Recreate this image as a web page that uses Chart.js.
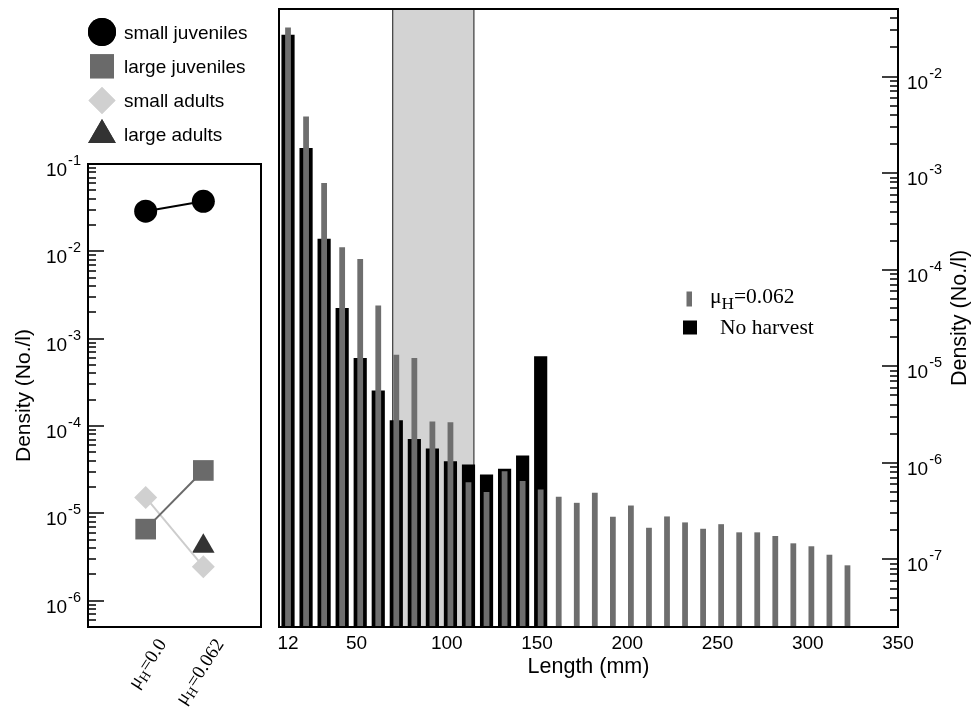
<!DOCTYPE html>
<html><head><meta charset="utf-8">
<script src="https://cdn.jsdelivr.net/npm/chart.js@4.4.0/dist/chart.umd.min.js"></script>
<style>
html,body{margin:0;padding:0;background:#fff;}
#wrap{position:relative;width:971px;height:714px;overflow:hidden;}
#c1{position:absolute;left:0;top:0;}
#c2{position:absolute;left:270px;top:0;}
</style></head><body>
<div id="wrap">
<canvas id="c1" width="270" height="714"></canvas>
<canvas id="c2" width="701" height="714"></canvas>
</div>
<script>
// ---------- data: left panel (stage densities) ----------
const harvestLevels = ['μ_H=0.0', 'μ_H=0.062'];
const stageNames = ['small juveniles', 'large juveniles', 'small adults', 'large adults'];
const smallJuveniles = [0.0288, 0.0374];
const largeJuveniles = [6.6e-6, 3.1e-5];
const smallAdults = [1.52e-5, 2.45e-6];
const largeAdults = [null, 4.2e-6];
const leftTickExponents = [-6, -5, -4, -3, -2, -1];

// ---------- data: right panel (length distribution) ----------
const lengthClasses = [12, 22, 32, 42, 52, 62, 72, 82, 92, 102, 112, 122, 132, 142, 152, 162,
  172, 182, 192, 202, 212, 222, 232, 242, 252, 262, 272, 282, 292, 302, 312, 322];
const densityHarvest = [0.0321, 3.86e-3, 7.9e-4, 1.71e-4, 1.29e-4, 4.25e-5, 1.32e-5, 1.22e-5,
  2.68e-6, 2.64e-6, 6.3e-7, 5.0e-7, 8.2e-7, 6.5e-7, 5.3e-7, 4.46e-7,
  3.86e-7, 4.9e-7, 2.77e-7, 3.62e-7, 2.13e-7, 2.79e-7, 2.42e-7, 2.08e-7,
  2.32e-7, 1.91e-7, 1.91e-7, 1.75e-7, 1.47e-7, 1.37e-7, 1.12e-7, 8.7e-8];
const densityNoHarvest = [0.027, 1.82e-3, 2.09e-4, 4.02e-5, 1.22e-5, 5.6e-6, 2.76e-6, 1.77e-6,
  1.41e-6, 1.04e-6, 9.6e-7, 7.6e-7, 8.7e-7, 1.19e-6, 1.27e-5];
const lengthTicks = [12, 50, 100, 150, 200, 250, 300, 350];
const rightTickExponents = [-7, -6, -5, -4, -3, -2];
const harvestWindow = [70, 115];
const seriesLabels = ['μ_H=0.062', 'No harvest'];

// ---------- helpers ----------
const SANS = "'Liberation Sans', Arial, sans-serif";
const SERIF = "'Liberation Serif', 'Times New Roman', serif";

function richParts(s) {
  const m = s.match(/^(.*?)_(.)(.*)$/);
  return m ? [[m[1], 0], [m[2], 1], [m[3], 0]] : [[s, 0]];
}
function drawRich(ctx, s, x, y, size, family, align, subScale) {
  const parts = richParts(s);
  const sub = size * (subScale || 0.72);
  let w = 0;
  parts.forEach(([t, b]) => { ctx.font = (b ? sub : size) + 'px ' + family; w += ctx.measureText(t).width; });
  let cx = align === 'right' ? x - w : x;
  ctx.textAlign = 'left';
  parts.forEach(([t, b]) => {
    ctx.font = (b ? sub : size) + 'px ' + family;
    ctx.fillText(t, cx, b ? y + size * 0.28 : y);
    cx += ctx.measureText(t).width;
  });
}
function drawPow(ctx, exp, x, y, align) {
  const base = '10', ex = String(exp);
  ctx.font = '19px ' + SANS;
  const wb = ctx.measureText(base).width;
  ctx.font = '14.5px ' + SANS;
  const we = ctx.measureText(ex).width;
  let sx = align === 'right' ? x - wb - we - 1 : x;
  ctx.textAlign = 'left';
  ctx.textBaseline = 'alphabetic';
  ctx.font = '19px ' + SANS;
  ctx.fillText(base, sx, y + 12);
  ctx.font = '14.5px ' + SANS;
  ctx.fillText(ex, sx + wb + 1, y + 1);
}
function drawLogTicks(ctx, scale, x, dir, majorLen, minorLen) {
  const lo = Math.floor(Math.log10(scale.min)), hi = Math.ceil(Math.log10(scale.max));
  ctx.beginPath();
  for (let e = lo; e <= hi; e++) {
    for (let k = 1; k <= 9; k++) {
      const v = k * Math.pow(10, e);
      if (v < scale.min * 0.999 || v > scale.max * 1.001) continue;
      const y = Math.round(scale.getPixelForValue(v));
      const len = k === 1 ? majorLen : minorLen;
      ctx.moveTo(x, y); ctx.lineTo(x + dir * len, y);
    }
  }
  ctx.stroke();
}

// ---------- left panel ----------
const stageSeries = [smallJuveniles, largeJuveniles, smallAdults, largeAdults];
const stageLine = ['#000000', '#6a6a6a', '#cdcdcd', '#333333'];
const stageFill = ['#000000', '#6a6a6a', '#d0d0d0', '#333333'];
const stageStyle = ['circle', 'rect', 'rectRot', 'triangle'];
const stageRadius = [11.5, 14.6, 11.5, 13];
const stageLegendRadius = [14, 17, 13.5, 16];

const leftDecor = {
  id: 'leftDecor',
  afterDraw(chart) {
    const ctx = chart.ctx, a = chart.chartArea, ys = chart.scales.y, xs = chart.scales.x;
    ctx.save();
    ctx.strokeStyle = '#000'; ctx.lineWidth = 2;
    ctx.strokeRect(a.left, a.top, a.right - a.left, a.bottom - a.top);
    ctx.lineWidth = 1.6;
    drawLogTicks(ctx, ys, a.left, 1, 16, 8);
    ctx.fillStyle = '#000';
    leftTickExponents.forEach(e => drawPow(ctx, e, a.left - 7, ys.getPixelForValue(Math.pow(10, e)), 'right'));
    // rotated category labels
    harvestLevels.forEach((lab, i) => {
      const px = xs.getPixelForValue(i + 1);
      ctx.save();
      ctx.translate(px + 17, a.bottom + 14);
      ctx.rotate(-57 * Math.PI / 180);
      ctx.textBaseline = 'middle';
      drawRich(ctx, lab, 0, 0, 19, SERIF, 'right');
      ctx.restore();
    });
    // legend
    chart.data.datasets.forEach((ds, i) => {
      const cy = 32 + i * 34.3;
      ctx.fillStyle = ds.backgroundColor;
      Chart.helpers.drawPoint(ctx, { pointStyle: ds.pointStyle, radius: stageLegendRadius[i], borderWidth: 0, rotation: 0 }, 102, cy);
      ctx.fill();
      ctx.fillStyle = '#000';
      ctx.font = '19px ' + SANS;
      ctx.textAlign = 'left'; ctx.textBaseline = 'alphabetic';
      ctx.fillText(ds.label, 124, cy + 6.5);
    });
    ctx.restore();
  }
};

new Chart(document.getElementById('c1'), {
  type: 'line',
  data: {
    datasets: stageNames.map((name, s) => ({
      label: name,
      data: stageSeries[s].map((v, i) => ({ x: i + 1, y: v })),
      borderColor: stageLine[s],
      backgroundColor: stageFill[s],
      pointBackgroundColor: stageFill[s],
      pointStyle: stageStyle[s],
      pointRadius: stageRadius[s],
      pointBorderWidth: 0,
      borderWidth: 2,
      tension: 0
    }))
  },
  options: {
    responsive: false, animation: false,
    layout: { autoPadding: false, padding: { left: 0, top: 164, right: 9, bottom: 0 } },
    plugins: { legend: { display: false }, tooltip: { enabled: false } },
    scales: {
      x: { type: 'linear', min: 0, max: 3, grid: { display: false }, border: { display: false },
           ticks: { display: false }, afterFit: s => { s.height = 87; } },
      y: { type: 'logarithmic', min: 5e-7, max: 0.1, grid: { display: false }, border: { display: false },
           ticks: { display: false },
           title: { display: true, text: 'Density (No./l)', color: '#000', font: { family: SANS, size: 21 }, padding: { top: 12, bottom: 0 } },
           afterFit: s => { s.width = 88; } }
    }
  },
  plugins: [leftDecor]
});

// ---------- right panel ----------
const rightDecor = {
  id: 'rightDecor',
  beforeDatasetsDraw(chart) {
    const ctx = chart.ctx, a = chart.chartArea, xs = chart.scales.x;
    const x0 = xs.getPixelForValue(harvestWindow[0]), x1 = xs.getPixelForValue(harvestWindow[1]);
    ctx.save();
    ctx.fillStyle = '#d3d3d3';
    ctx.fillRect(x0, a.top, x1 - x0, a.bottom - a.top);
    ctx.strokeStyle = '#3a3a3a'; ctx.lineWidth = 1.2;
    ctx.beginPath();
    ctx.moveTo(x0, a.top); ctx.lineTo(x0, a.bottom);
    ctx.moveTo(x1, a.top); ctx.lineTo(x1, a.bottom);
    ctx.stroke();
    ctx.restore();
  },
  afterDraw(chart) {
    const ctx = chart.ctx, a = chart.chartArea, ys = chart.scales.y;
    ctx.save();
    ctx.strokeStyle = '#000'; ctx.lineWidth = 2;
    ctx.strokeRect(a.left, a.top, a.right - a.left, a.bottom - a.top);
    ctx.lineWidth = 1.6;
    drawLogTicks(ctx, ys, a.right, -1, 16, 8);
    ctx.fillStyle = '#000';
    rightTickExponents.forEach(e => drawPow(ctx, e, a.right + 9, ys.getPixelForValue(Math.pow(10, e)), 'left'));
    // right axis title (reads bottom to top)
    ctx.save();
    ctx.translate(690, (a.top + a.bottom) / 2);
    ctx.rotate(-Math.PI / 2);
    ctx.font = '21.5px ' + SANS;
    ctx.textAlign = 'center'; ctx.textBaseline = 'middle';
    ctx.fillText('Density (No./l)', 0, 0);
    ctx.restore();
    // legend
    const ds = chart.data.datasets;
    ctx.fillStyle = ds[0].backgroundColor;
    ctx.fillRect(416.5, 291.5, 5.5, 15);
    ctx.fillStyle = ds[1].backgroundColor;
    ctx.fillRect(413, 320.5, 14, 14);
    ctx.fillStyle = '#000';
    ctx.textBaseline = 'alphabetic';
    drawRich(ctx, ds[0].label, 440, 303, 21.5, SERIF, 'left', 0.8);
    drawRich(ctx, ds[1].label, 450, 334, 21.5, SERIF, 'left');
    ctx.restore();
  }
};

new Chart(document.getElementById('c2'), {
  type: 'bar',
  data: {
    datasets: [
      { label: seriesLabels[0], data: lengthClasses.map((x, i) => ({ x: x, y: densityHarvest[i] })),
        backgroundColor: '#6e6e6e', borderWidth: 0, barPercentage: 0.32, categoryPercentage: 1, grouped: false, order: 0 },
      { label: seriesLabels[1], data: densityNoHarvest.map((v, i) => ({ x: lengthClasses[i], y: v })),
        backgroundColor: '#000000', borderWidth: 0, barPercentage: 0.73, categoryPercentage: 1, grouped: false, order: 1 }
    ]
  },
  options: {
    responsive: false, animation: false,
    layout: { autoPadding: false, padding: { left: 9, top: 9, right: 0, bottom: 0 } },
    plugins: { legend: { display: false }, tooltip: { enabled: false } },
    scales: {
      x: { type: 'linear', min: 7, max: 350, offset: false, grid: { display: false }, border: { display: false },
           afterBuildTicks: s => { s.ticks = lengthTicks.map(v => ({ value: v })); },
           ticks: { autoSkip: false, maxRotation: 0, color: '#000', font: { family: SANS, size: 19 }, padding: -3 },
           title: { display: true, text: 'Length (mm)', color: '#000', font: { family: SANS, size: 21.5 }, padding: { top: 0, bottom: 34 } },
           afterFit: s => { s.height = 87; } },
      y: { type: 'logarithmic', position: 'right', min: 2e-8, max: 0.05, grid: { display: false }, border: { display: false },
           ticks: { display: false }, afterFit: s => { s.width = 73; } }
    }
  },
  plugins: [rightDecor]
});
</script>
</body></html>
